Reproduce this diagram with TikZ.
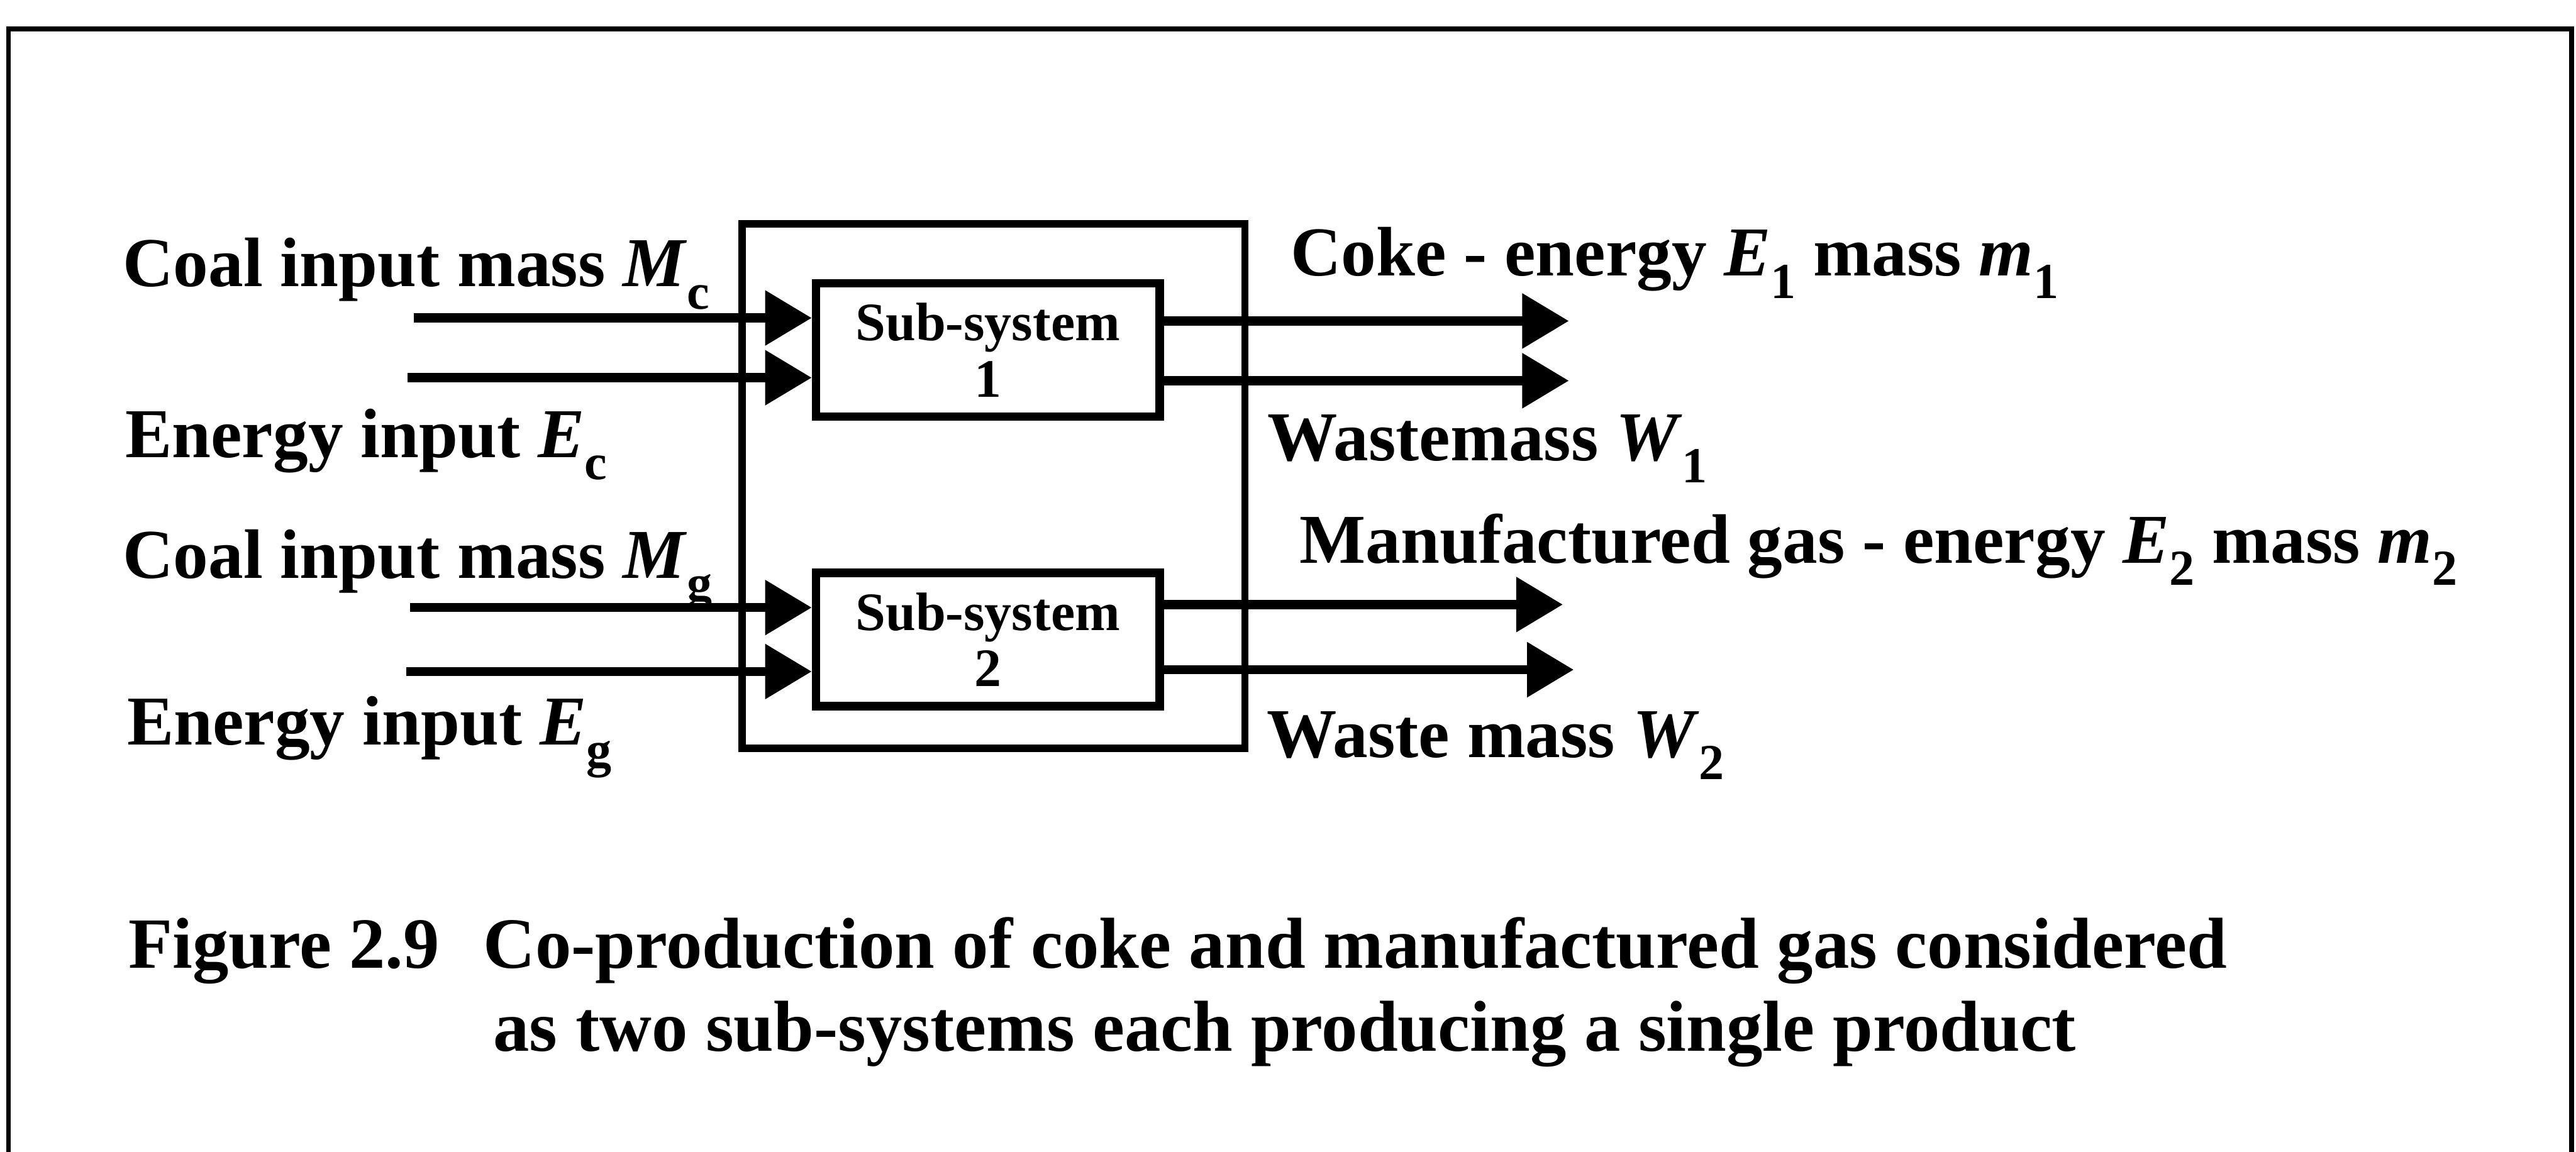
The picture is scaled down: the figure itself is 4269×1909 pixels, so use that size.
\documentclass[tikz,border=0pt]{standalone}
\usepackage{fontspec}
\setmainfont{Liberation Serif}
\usetikzlibrary{arrows.meta, positioning, calc}

% lowered subscript as printed in the scan
\newcommand{\low}[1]{\raisebox{-.32em}{\scalebox{.72}{#1}}}

\begin{document}
\begin{tikzpicture}[x=0.01cm, y=-0.01cm,
    lbl/.style={anchor=base west, inner sep=0pt, font=\fontsize{33}{40}\selectfont\bfseries},
    captxt/.style={lbl, font=\fontsize{34}{40}\selectfont\bfseries},
    subbox/.style={draw, line width=4pt, minimum width=5.69cm, minimum height=2.21cm,
        align=center, inner sep=0pt, font=\fontsize{25.5}{26.5}\selectfont\bfseries},
    flow/.style={line width=4.3pt, -{Triangle[length=22pt, width=25pt]}}]
\useasboundingbox (0,0) rectangle (4269,1909);
% Frame of the scanned page
\draw[line width=2.3pt] (14,1909) -- (14,48) -- (4262,48) -- (4262,1909);
% System boundary
\draw[line width=3.4pt] (1230,371) rectangle (2063,1240);
% Sub-systems
\node[subbox] (sub1) at (1637,580) {Sub-system\\1};
\node[subbox] (sub2) at (1637,1060) {Sub-system\\2};
% Inputs
\foreach \i/\sx/\yy/\bx in {1/686/527/sub1, 2/675/626/sub1, 3/680/1007/sub2, 4/673/1113/sub2} {
    \coordinate (in\i) at (\sx,\yy);
    \draw[flow] (in\i) -- (in\i -| \bx.west);
}
% Outputs
\foreach \i/\tx/\yy/\bx in {1/2600/532/sub1, 2/2600/631/sub1, 3/2590/1002/sub2, 4/2608/1110/sub2} {
    \coordinate (out\i) at (\tx,\yy);
    \draw[flow] (out\i -| \bx.east) -- (out\i);
}
% Left labels
\node[lbl] (lblMc) at (203,475) {Coal input mass \textit{M}\low{c}};
\node[lbl] (lblEc) at (207,758) {Energy input \textit{E}\low{c}};
\node[lbl] (lblMg) at (203,958) {Coal input mass \textit{M}\low{g}};
\node[lbl] (lblEg) at (210,1234) {Energy input \textit{E}\low{g}};
% Right labels
\node[lbl] (lblCoke) at (2138,457) {Coke - energy \textit{E}\low{1} mass \textit{m}\low{1}};
\node[lbl] (lblWa) at (2100,763) {Wastemass \textit{W}\low{1}};
\node[lbl] (lblGas) at (2153,933) {Manufactured gas - energy \textit{E}\low{2} mass \textit{m}\low{2}};
\node[lbl] (lblWb) at (2099,1255) {Waste mass \textit{W}\low{2}};
% Caption
\node[captxt] (capNum) at (212,1605) {Figure 2.9};
\node[captxt] (capA) at (800,1605) {Co-production of coke and manufactured gas considered};
\node[captxt] (capB) at (817,1742) {as two sub-systems each producing a single product};
\end{tikzpicture}
\end{document}
